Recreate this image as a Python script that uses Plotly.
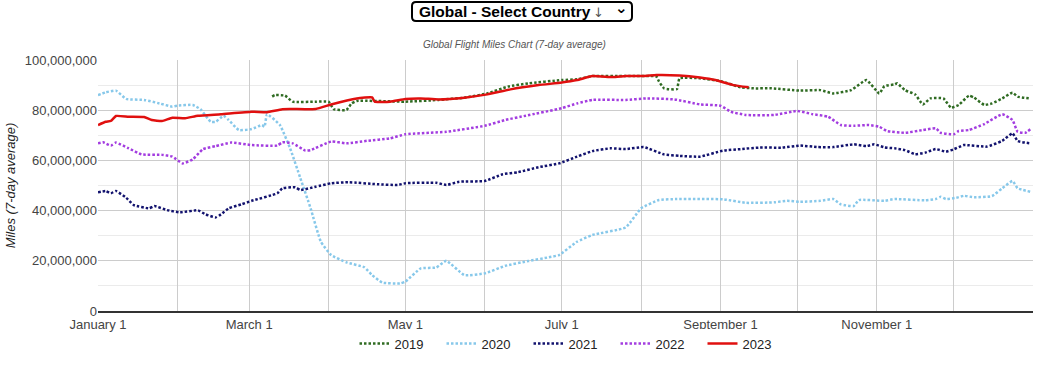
import pandas as pd
import plotly.graph_objects as go

# ---- data (day-of-year offsets from January 1, values in millions of miles) ----
days_2019 = [68, 69, 73, 76, 85, 90, 92, 97, 99, 101, 120, 133, 143, 152, 160, 168, 181, 187, 193, 206, 218, 219, 221, 226, 227, 235, 243, 251, 256, 263, 274, 282, 287, 294, 300, 305, 307, 311, 312, 315, 319, 322, 325, 330, 333, 336, 340, 342, 346, 349, 353, 357, 359, 364]
vals_2019 = [85.4, 86.0, 85.8, 83.4, 83.4, 83.4, 80.4, 80.1, 82.7, 83.7, 83.4, 84.1, 85.0, 86.7, 89.4, 90.7, 92.0, 92.3, 93.6, 93.6, 93.4, 91.4, 88.7, 88.4, 92.7, 92.7, 91.6, 89.1, 88.7, 88.7, 87.8, 88.0, 86.7, 88.0, 92.0, 86.7, 89.6, 90.3, 90.7, 88.0, 86.3, 82.3, 84.7, 84.7, 81.0, 82.1, 85.8, 85.0, 82.1, 82.7, 84.7, 87.0, 85.4, 84.7]

days_2020 = [0, 3, 7, 11, 18, 24, 29, 31, 37, 40, 44, 46, 49, 51, 55, 60, 64, 65, 66, 71, 75, 79, 83, 87, 91, 97, 104, 107, 111, 118, 120, 126, 132, 136, 143, 151, 159, 168, 176, 180, 187, 193, 206, 212, 219, 226, 244, 253, 264, 269, 274, 282, 287, 290, 295, 297, 307, 311, 323, 327, 329, 331, 335, 338, 342, 349, 353, 357, 359, 364]
vals_2020 = [86.0, 87.1, 87.8, 84.5, 84.1, 82.7, 81.4, 81.8, 82.1, 80.4, 75.4, 75.4, 77.8, 76.1, 72.1, 72.5, 74.1, 73.4, 78.4, 74.1, 64.8, 52.9, 40.9, 27.6, 22.3, 19.4, 17.4, 14.3, 11.3, 11.0, 11.7, 17.0, 17.3, 20.0, 14.3, 15.0, 18.0, 19.9, 21.4, 22.3, 27.6, 30.3, 33.3, 40.9, 44.2, 44.6, 44.5, 43.1, 43.3, 43.9, 43.5, 43.9, 44.6, 42.5, 41.8, 44.2, 43.9, 44.6, 44.1, 44.6, 45.5, 44.6, 45.1, 45.9, 45.3, 45.8, 48.9, 51.8, 48.9, 47.5]

days_2021 = [0, 3, 5, 7, 11, 14, 20, 22, 27, 32, 39, 42, 46, 48, 51, 56, 60, 70, 72, 77, 79, 85, 91, 98, 109, 117, 120, 132, 136, 141, 151, 158, 164, 172, 180, 187, 193, 200, 206, 213, 221, 227, 235, 244, 251, 258, 267, 274, 281, 287, 295, 300, 303, 307, 311, 315, 319, 323, 327, 331, 334, 338, 347, 353, 357, 359, 364]
vals_2021 = [47.3, 47.8, 46.9, 47.8, 45.1, 42.2, 40.9, 41.8, 40.2, 39.3, 40.1, 38.5, 37.3, 38.5, 40.9, 42.5, 43.9, 46.9, 48.9, 49.3, 48.2, 49.5, 50.9, 51.3, 50.5, 50.2, 50.9, 51.1, 50.2, 51.5, 51.8, 54.5, 55.3, 57.3, 58.8, 61.5, 63.7, 64.8, 64.5, 65.3, 62.4, 61.8, 61.5, 63.9, 64.5, 65.1, 65.1, 65.9, 65.3, 65.3, 66.4, 65.7, 66.4, 65.2, 64.8, 64.1, 62.5, 63.1, 64.5, 63.5, 64.4, 66.1, 65.5, 67.8, 70.8, 67.7, 66.8]

days_2022 = [0, 2, 5, 7, 12, 17, 25, 29, 33, 37, 41, 46, 52, 60, 70, 72, 76, 81, 83, 91, 97, 105, 114, 120, 136, 151, 159, 167, 181, 187, 193, 206, 214, 225, 235, 243, 247, 253, 264, 273, 279, 285, 290, 295, 301, 305, 308, 315, 322, 327, 329, 334, 336, 340, 346, 353, 357, 359, 362, 364]
vals_2022 = [66.8, 67.2, 65.9, 67.1, 64.8, 62.4, 62.2, 61.5, 58.8, 60.4, 64.5, 65.7, 67.1, 66.1, 65.9, 67.2, 66.8, 63.9, 64.1, 67.5, 66.8, 67.8, 68.8, 70.4, 71.4, 73.8, 76.1, 77.8, 80.8, 82.7, 84.1, 84.1, 84.7, 84.3, 82.3, 81.8, 79.4, 78.1, 78.1, 79.7, 78.4, 77.4, 74.1, 73.8, 74.1, 73.4, 71.7, 71.0, 72.1, 72.8, 71.0, 70.4, 71.7, 72.1, 74.5, 78.4, 76.1, 71.4, 71.0, 72.5]

days_2023 = [0, 3, 5, 7, 12, 18, 21, 25, 29, 34, 39, 48, 60, 66, 72, 85, 91, 101, 107, 108, 114, 120, 126, 133, 143, 152, 161, 172, 181, 187, 193, 201, 206, 213, 218, 227, 235, 241, 248, 254]
vals_2023 = [74.1, 75.4, 75.7, 77.7, 77.4, 77.3, 76.1, 75.7, 77.0, 76.8, 77.8, 78.4, 79.4, 79.2, 80.4, 80.5, 82.3, 84.7, 85.1, 83.4, 83.4, 84.5, 84.7, 84.3, 85.0, 86.3, 88.3, 90.0, 91.0, 92.0, 93.6, 93.2, 93.6, 93.6, 94.0, 93.8, 93.0, 92.0, 90.0, 89.1]

series_names = ["2019", "2020", "2021", "2022", "2023"]
tick_dates = ["2023-01-01", "2023-02-01", "2023-03-01", "2023-04-01", "2023-05-01", "2023-06-01",
              "2023-07-01", "2023-08-01", "2023-09-01", "2023-10-01", "2023-11-01", "2023-12-01", "2024-01-01"]
tick_text = ["January 1", "", "March 1", "", "May 1", "", "July 1", "", "September 1", "", "November 1", "", ""]
y_ticks = [0, 20e6, 40e6, 60e6, 80e6, 100e6]

colors = ["#2f6b22", "#87c8ea", "#12126e", "#a33de0", "#e0100f"]
dashes = ["2.5px,2px", "2.5px,2px", "2.5px,2px", "2.5px,2px", "solid"]

base = pd.Timestamp("2023-01-01")


def to_dates(days):
    return [base + pd.Timedelta(days=d) for d in days]


all_days = [days_2019, days_2020, days_2021, days_2022, days_2023]
all_vals = [vals_2019, vals_2020, vals_2021, vals_2022, vals_2023]

fig = go.Figure()
for name, d, v, c, ds in zip(series_names, all_days, all_vals, colors, dashes):
    fig.add_trace(go.Scatter(
        x=to_dates(d), y=[val * 1e6 for val in v], name=name, mode="lines",
        line=dict(color=c, width=2.5, dash=ds, shape="spline", smoothing=0.4),
    ))

font_main = "Liberation Sans, Arial, sans-serif"

# plot area spans page x 98..1033, y 60..311
fig.update_layout(
    width=1051, height=365,
    margin=dict(l=98, r=18, t=60, b=54, autoexpand=False),
    paper_bgcolor="white", plot_bgcolor="white",
    font=dict(family=font_main, size=13, color="#444"),
    showlegend=True,
    legend=dict(orientation="h", x=(572 - 98) / 935, xanchor="center", y=-0.07, yanchor="top",
                font=dict(size=13, color="#222"), itemwidth=30,
                entrywidth=42, entrywidthmode="pixels", tracegroupgap=0),
)


def px_x(page_x):
    return (page_x - 98) / 935


def px_y(page_y):
    return (311 - page_y) / 251


fig.add_annotation(text="<i>Global Flight Miles Chart (7-day average)</i>", xref="paper", x=px_x(514),
                   yref="paper", y=px_y(44), yanchor="middle", showarrow=False,
                   font=dict(size=10, color="#555"))

# rounded dropdown box
x0, x1, y0, y1, r = 412, 632, 2, 21, 4
path = (f"M {px_x(x0 + r)},{px_y(y0)} L {px_x(x1 - r)},{px_y(y0)} "
        f"Q {px_x(x1)},{px_y(y0)} {px_x(x1)},{px_y(y0 + r)} L {px_x(x1)},{px_y(y1 - r)} "
        f"Q {px_x(x1)},{px_y(y1)} {px_x(x1 - r)},{px_y(y1)} L {px_x(x0 + r)},{px_y(y1)} "
        f"Q {px_x(x0)},{px_y(y1)} {px_x(x0)},{px_y(y1 - r)} L {px_x(x0)},{px_y(y0 + r)} "
        f"Q {px_x(x0)},{px_y(y0)} {px_x(x0 + r)},{px_y(y0)} Z")
fig.add_shape(type="path", path=path, xref="paper", yref="paper",
              line=dict(color="black", width=2), fillcolor="white", layer="above")
fig.add_annotation(text="<b>Global - Select Country</b>", xref="paper", x=px_x(417), xanchor="left",
                   yref="paper", y=px_y(11.5), yanchor="middle", showarrow=False,
                   font=dict(size=15.5, color="black", family="Liberation Sans Narrow, Arial Narrow, Liberation Sans"))
fig.add_annotation(text="↓", xref="paper", x=px_x(598), xanchor="center",
                   yref="paper", y=px_y(13), yanchor="middle", showarrow=False,
                   font=dict(size=13, color="#555", family="DejaVu Sans"))
fig.add_annotation(text="<b>⌄</b>", xref="paper", x=px_x(621), xanchor="center",
                   yref="paper", y=px_y(8), yanchor="middle", showarrow=False,
                   font=dict(size=15, color="black", family="DejaVu Sans"))

fig.update_xaxes(
    type="date", range=["2023-01-01", "2024-01-01"],
    tickvals=tick_dates, ticktext=tick_text, ticks="",
    showgrid=True, gridcolor="#cccccc", gridwidth=1,
    showline=True, linecolor="#333", linewidth=2,
    tickfont=dict(size=13, color="#444"), zeroline=False, automargin=False,
)
fig.update_yaxes(
    range=[0, 100e6], tickvals=y_ticks, tickformat=",", ticks="",
    showgrid=True, gridcolor="#cccccc", gridwidth=1,
    minor=dict(dtick=10e6, showgrid=True, gridcolor="#ebebeb", gridwidth=1),
    zeroline=False, showline=False, automargin=False,
    tickfont=dict(size=13, color="#444"),
    title=dict(text="<i>Miles (7-day average)</i>", font=dict(size=13, color="#222"), standoff=6),
)

fig.write_html("out.html", config={"displayModeBar": False},
               post_script="document.body.style.margin='0px';")
